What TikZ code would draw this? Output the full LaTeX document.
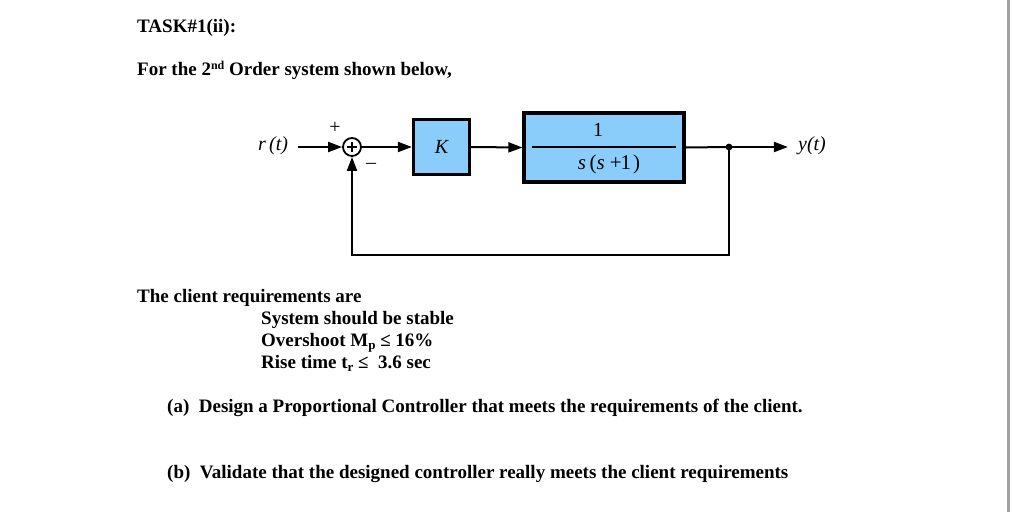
\documentclass[tikz,border=0pt]{standalone}
\usepackage{fontspec}
\setmainfont{Liberation Serif}
\usetikzlibrary{arrows.meta,calc}
\definecolor{blockblue}{RGB}{138,204,250}
\definecolor{edgegray}{RGB}{160,164,168}
\tikzset{
  txt/.style={anchor=base west, inner sep=0pt, font=\bfseries\fontsize{19}{22}\selectfont},
  blk/.style={draw=black, line width=3.2pt, fill=blockblue, inner sep=0pt},
  arr/.style={line width=2pt, -{Triangle[length=14pt,width=10pt]}},
  ln/.style={line width=2pt},
  sig/.style={font=\itshape\fontsize{20}{22}\selectfont, inner sep=0pt},
  pm/.style={font=\fontsize{20}{20}\selectfont, inner sep=0pt},
}
\newcommand{\sub}[1]{\raisebox{-3.5pt}{\fontsize{13}{13}\selectfont #1}}
\begin{document}
\begin{tikzpicture}[x=1pt,y=-1pt]
\useasboundingbox (0,0) rectangle (1012,512);
\fill[white] (0,0) rectangle (1012,512);
\fill[edgegray] (1007,0) rectangle (1010,512);

\node[txt] (title) at (137,32) {TASK\#1(ii):};
\node[txt] (intro) at (137,75) {For the 2\raisebox{6pt}{\fontsize{12}{12}\selectfont nd} Order system shown below,};

% block diagram
\node[draw, circle, line width=1.8pt, minimum size=18pt, inner sep=0pt] (sum) at (352,147) {};
\draw[line width=1.1pt] ($(sum.center)+(-5,0)$) -- ($(sum.center)+(5,0)$);
\draw[line width=1.1pt] ($(sum.center)+(0,-5)$) -- ($(sum.center)+(0,5)$);
\node[sig] (r) at (273,146) {r\,(t)};
\node[pm] (plus) at (335,128) {+};
\node[pm] (minus) at (371,166) {\textendash};
\node[blk, minimum width=56pt, minimum height=55pt, font=\itshape\fontsize{20}{22}\selectfont] (K) at (441.5,147) {K};
\node[blk, minimum width=160pt, minimum height=69pt] (P) at (604,147.5) {};
\draw[line width=1.5pt] (532,147) -- (676,147);
\node[font=\fontsize{20}{22}\selectfont, inner sep=0pt] (num) at (598,130) {1};
\node[font=\fontsize{21}{22}\selectfont, inner sep=0pt] (den) at (609,164) {\textit{s}\,(\textit{s}\hspace{5pt}+\hspace{-1pt}1\hspace{2pt})};
\coordinate (dot) at (729,147);
\node[sig] (y) at (812,146) {y(t)};

\draw[arr] (r.east) ++(10,1) coordinate (rs) -- (sum.west);
\draw[arr] (sum.east) -- (K.west);
\draw[arr] (K.east) -- (P.west);
\draw[ln] (P.east) -- (dot);
\draw[arr] (dot) -- ($(y.west)+(-10,1)$);
\fill (dot) circle (3.4pt);
\draw[arr] (dot) -- ++(0,108) -| (sum.south);

% requirements
\node[txt] (req) at (137,302) {The client requirements are};
\node[txt] (r1) at (261,324) {System should be stable};
\node[txt] (r2) at (261,346) {Overshoot M\sub{p} ≤ 16\%};
\node[txt] (r3) at (261,368) {Rise time t\sub{r} ≤ \ 3.6 sec};
\node[txt] (qa) at (167,412) {(a)\ \ Design a Proportional Controller that meets the requirements of the client.};
\node[txt] (qb) at (167,478) {(b)\ \ Validate that the designed controller really meets the client requirements};
\end{tikzpicture}
\end{document}
